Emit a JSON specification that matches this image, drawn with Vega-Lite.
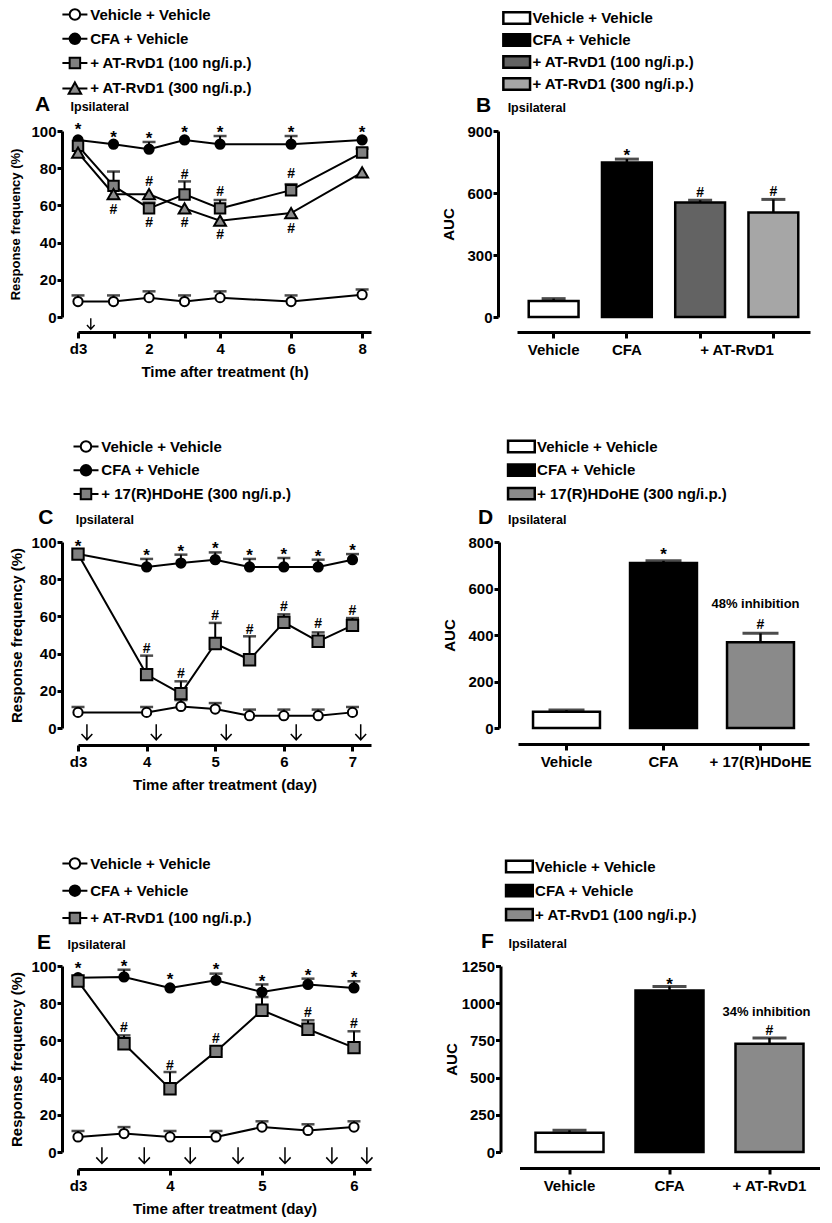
{
  "$schema": "https://vega.github.io/schema/vega-lite/v6.json",
  "padding": {"left": 9, "top": 7, "right": 5, "bottom": 5},
  "background": "white",
  "config": {
    "view": {"stroke": null},
    "font": "Liberation Sans",
    "axis": {"domainColor": "black", "domainWidth": 3, "tickColor": "black", "tickWidth": 3, "tickSize": 5, "labelFont": "Liberation Sans", "labelFontSize": 15, "labelFontWeight": "bold", "labelColor": "black", "titleFont": "Liberation Sans", "titleFontSize": 15, "titleFontWeight": "bold", "titleColor": "black", "grid": false, "labelOverlap": false, "labelFlush": false},
    "axisX": {"tickSize": 6},
    "text": {"color": "black", "font": "Liberation Sans"}
  },
  "resolve": {"scale": {"fill": "independent", "shape": "independent"}, "legend": {"fill": "independent", "shape": "independent"}},
  "datasets": {
    "A": [
      {"t": 0, "s": "Vehicle + Vehicle", "m": 8.3, "hi": 11.6},
      {"t": 1, "s": "Vehicle + Vehicle", "m": 8.3, "hi": 11.6},
      {"t": 2, "s": "Vehicle + Vehicle", "m": 10.4, "hi": 13.8},
      {"t": 3, "s": "Vehicle + Vehicle", "m": 8.3, "hi": 11.6},
      {"t": 4, "s": "Vehicle + Vehicle", "m": 10.4, "hi": 13.8},
      {"t": 6, "s": "Vehicle + Vehicle", "m": 8.3, "hi": 11.6},
      {"t": 8, "s": "Vehicle + Vehicle", "m": 12, "hi": 14.8},
      {"t": 0, "s": "CFA + Vehicle", "m": 95.2, "hi": null},
      {"t": 1, "s": "CFA + Vehicle", "m": 92.9, "hi": null},
      {"t": 2, "s": "CFA + Vehicle", "m": 90.2, "hi": 94.1},
      {"t": 3, "s": "CFA + Vehicle", "m": 95.2, "hi": null},
      {"t": 4, "s": "CFA + Vehicle", "m": 92.9, "hi": 97.3},
      {"t": 6, "s": "CFA + Vehicle", "m": 92.9, "hi": 97.3},
      {"t": 8, "s": "CFA + Vehicle", "m": 95.2, "hi": null},
      {"t": 0, "s": "+ AT-RvD1 (100 ng/i.p.)", "m": 92, "hi": null},
      {"t": 1, "s": "+ AT-RvD1 (100 ng/i.p.)", "m": 70.5, "hi": 78.2},
      {"t": 2, "s": "+ AT-RvD1 (100 ng/i.p.)", "m": 58.4, "hi": 61.5},
      {"t": 3, "s": "+ AT-RvD1 (100 ng/i.p.)", "m": 65.9, "hi": 72.9},
      {"t": 4, "s": "+ AT-RvD1 (100 ng/i.p.)", "m": 58.4, "hi": 62.9},
      {"t": 6, "s": "+ AT-RvD1 (100 ng/i.p.)", "m": 68.2, "hi": 71.4},
      {"t": 8, "s": "+ AT-RvD1 (100 ng/i.p.)", "m": 88.4, "hi": 90.5},
      {"t": 0, "s": "+ AT-RvD1 (300 ng/i.p.)", "m": 88.4, "hi": null},
      {"t": 1, "s": "+ AT-RvD1 (300 ng/i.p.)", "m": 66, "hi": null},
      {"t": 2, "s": "+ AT-RvD1 (300 ng/i.p.)", "m": 66, "hi": null},
      {"t": 3, "s": "+ AT-RvD1 (300 ng/i.p.)", "m": 58.4, "hi": null},
      {"t": 4, "s": "+ AT-RvD1 (300 ng/i.p.)", "m": 51.8, "hi": null},
      {"t": 6, "s": "+ AT-RvD1 (300 ng/i.p.)", "m": 55.9, "hi": null},
      {"t": 8, "s": "+ AT-RvD1 (300 ng/i.p.)", "m": 77.7, "hi": null}
    ],
    "A_ann": [
      {"t": 0, "y": 102.7, "k": "*"}, {"t": 1, "y": 98.2, "k": "*"}, {"t": 2, "y": 97.7, "k": "*"},
      {"t": 3, "y": 100.9, "k": "*"}, {"t": 4, "y": 101.3, "k": "*"}, {"t": 6, "y": 101.3, "k": "*"}, {"t": 8, "y": 101.3, "k": "*"},
      {"t": 1, "y": 58.0, "k": "#"}, {"t": 2, "y": 73.2, "k": "#"}, {"t": 2, "y": 50.9, "k": "#"},
      {"t": 3, "y": 76.8, "k": "#"}, {"t": 3, "y": 50.9, "k": "#"}, {"t": 4, "y": 67.9, "k": "#"},
      {"t": 4, "y": 44.6, "k": "#"}, {"t": 6, "y": 77.3, "k": "#"}, {"t": 6, "y": 47.7, "k": "#"}
    ],
    "A_arr": [{"t": 0.36, "y": -3.6}],
    "C": [
      {"t": 3, "s": "Vehicle + Vehicle", "m": 8.4, "hi": 11.3},
      {"t": 4, "s": "Vehicle + Vehicle", "m": 8.4, "hi": 11.3},
      {"t": 4.5, "s": "Vehicle + Vehicle", "m": 11.6, "hi": 15},
      {"t": 5, "s": "Vehicle + Vehicle", "m": 10.2, "hi": 13.4},
      {"t": 5.5, "s": "Vehicle + Vehicle", "m": 6.6, "hi": 9.9},
      {"t": 6, "s": "Vehicle + Vehicle", "m": 6.6, "hi": 9.9},
      {"t": 6.5, "s": "Vehicle + Vehicle", "m": 6.6, "hi": 9.9},
      {"t": 7, "s": "Vehicle + Vehicle", "m": 8.4, "hi": 11.3},
      {"t": 3, "s": "CFA + Vehicle", "m": 93.5, "hi": null},
      {"t": 4, "s": "CFA + Vehicle", "m": 86.6, "hi": 90.9},
      {"t": 4.5, "s": "CFA + Vehicle", "m": 88.7, "hi": 93.2},
      {"t": 5, "s": "CFA + Vehicle", "m": 90.5, "hi": 94.4},
      {"t": 5.5, "s": "CFA + Vehicle", "m": 86.6, "hi": 90.9},
      {"t": 6, "s": "CFA + Vehicle", "m": 86.6, "hi": 91.4},
      {"t": 6.5, "s": "CFA + Vehicle", "m": 86.6, "hi": 90.5},
      {"t": 7, "s": "CFA + Vehicle", "m": 90.5, "hi": 93.5},
      {"t": 3, "s": "+ 17(R)HDoHE (300 ng/i.p.)", "m": 93.5, "hi": null},
      {"t": 4, "s": "+ 17(R)HDoHE (300 ng/i.p.)", "m": 28.7, "hi": 38.9},
      {"t": 4.5, "s": "+ 17(R)HDoHE (300 ng/i.p.)", "m": 18.5, "hi": 25.1},
      {"t": 5, "s": "+ 17(R)HDoHE (300 ng/i.p.)", "m": 45.4, "hi": 56.5},
      {"t": 5.5, "s": "+ 17(R)HDoHE (300 ng/i.p.)", "m": 36.7, "hi": 49.3},
      {"t": 6, "s": "+ 17(R)HDoHE (300 ng/i.p.)", "m": 56.8, "hi": 61.1},
      {"t": 6.5, "s": "+ 17(R)HDoHE (300 ng/i.p.)", "m": 46.6, "hi": 51.4},
      {"t": 7, "s": "+ 17(R)HDoHE (300 ng/i.p.)", "m": 55.2, "hi": 59.1}
    ],
    "C_ann": [
      {"t": 3, "y": 99.5, "k": "*"}, {"t": 4, "y": 94.4, "k": "*"}, {"t": 4.5, "y": 96.8, "k": "*"}, {"t": 5, "y": 98.6, "k": "*"},
      {"t": 5.5, "y": 94.4, "k": "*"}, {"t": 6, "y": 94.9, "k": "*"}, {"t": 6.5, "y": 94.0, "k": "*"}, {"t": 7, "y": 97.3, "k": "*"},
      {"t": 4, "y": 43.0, "k": "#"}, {"t": 4.5, "y": 29.6, "k": "#"}, {"t": 5, "y": 60.6, "k": "#"}, {"t": 5.5, "y": 53.4, "k": "#"},
      {"t": 6, "y": 65.4, "k": "#"}, {"t": 6.5, "y": 56.5, "k": "#"}, {"t": 7, "y": 63.6, "k": "#"}
    ],
    "C_arr": [{"t": 3.13, "y": -2.2}, {"t": 4.14, "y": -2.2}, {"t": 5.16, "y": -2.2}, {"t": 6.18, "y": -2.2}, {"t": 7.12, "y": -2.2}],
    "E": [
      {"t": 3, "s": "Vehicle + Vehicle", "m": 8.1, "hi": 11.3},
      {"t": 3.5, "s": "Vehicle + Vehicle", "m": 9.9, "hi": 13.4},
      {"t": 4, "s": "Vehicle + Vehicle", "m": 8.1, "hi": 11.3},
      {"t": 4.5, "s": "Vehicle + Vehicle", "m": 8.1, "hi": 11.3},
      {"t": 5, "s": "Vehicle + Vehicle", "m": 13.4, "hi": 16.5},
      {"t": 5.5, "s": "Vehicle + Vehicle", "m": 11.6, "hi": 14.9},
      {"t": 6, "s": "Vehicle + Vehicle", "m": 13.4, "hi": 16.5},
      {"t": 3, "s": "CFA + Vehicle", "m": 93.7, "hi": null},
      {"t": 3.5, "s": "CFA + Vehicle", "m": 94.1, "hi": 98},
      {"t": 4, "s": "CFA + Vehicle", "m": 88.2, "hi": null},
      {"t": 4.5, "s": "CFA + Vehicle", "m": 92.3, "hi": 95.9},
      {"t": 5, "s": "CFA + Vehicle", "m": 86, "hi": 90.1},
      {"t": 5.5, "s": "CFA + Vehicle", "m": 90.1, "hi": 93.2},
      {"t": 6, "s": "CFA + Vehicle", "m": 88.2, "hi": 91.8},
      {"t": 3, "s": "+ AT-RvD1 (100 ng/i.p.)", "m": 91.9, "hi": null},
      {"t": 3.5, "s": "+ AT-RvD1 (100 ng/i.p.)", "m": 58.2, "hi": 62.7},
      {"t": 4, "s": "+ AT-RvD1 (100 ng/i.p.)", "m": 34, "hi": 43},
      {"t": 4.5, "s": "+ AT-RvD1 (100 ng/i.p.)", "m": 54.1, "hi": 55.5},
      {"t": 5, "s": "+ AT-RvD1 (100 ng/i.p.)", "m": 76.2, "hi": 83.3},
      {"t": 5.5, "s": "+ AT-RvD1 (100 ng/i.p.)", "m": 66, "hi": 70.8},
      {"t": 6, "s": "+ AT-RvD1 (100 ng/i.p.)", "m": 56.1, "hi": 64.9}
    ],
    "E_ann": [
      {"t": 3, "y": 100.7, "k": "*"}, {"t": 3.5, "y": 101.6, "k": "*"}, {"t": 4, "y": 94.4, "k": "*"}, {"t": 4.5, "y": 99.8, "k": "*"},
      {"t": 5, "y": 93.7, "k": "*"}, {"t": 5.5, "y": 96.8, "k": "*"}, {"t": 6, "y": 95.5, "k": "*"},
      {"t": 3.5, "y": 67.2, "k": "#"}, {"t": 4, "y": 47.0, "k": "#"}, {"t": 4.5, "y": 61.3, "k": "#"}, {"t": 5.5, "y": 75.3, "k": "#"}, {"t": 6, "y": 69.4, "k": "#"}
    ],
    "E_arr": [{"t": 3.26, "y": -1.8}, {"t": 3.72, "y": -1.8}, {"t": 4.22, "y": -1.8}, {"t": 4.74, "y": -1.8}, {"t": 5.25, "y": -1.8}, {"t": 5.76, "y": -1.8}, {"t": 6.14, "y": -1.8}]
  },
  "spacing": 60,
  "vconcat": [
    {
      "resolve": {"scale": {"fill": "independent", "shape": "independent"}, "legend": {"fill": "independent", "shape": "independent"}},
      "hconcat": [
        {
          "width": 293, "height": 186,
          "layer": [
            {"data": {"name": "A"}, "mark": {"type": "line", "color": "black", "strokeWidth": 2},
             "encoding": {
               "x": {"field": "t", "type": "quantitative", "scale": {"domain": [0, 8.25], "nice": false, "zero": false},
                     "axis": {"values": [0, 1, 2, 3, 4, 6, 8], "tickCount": 20, "format": "d", "labelExpr": "datum.value==0?'d3':(datum.value==1||datum.value==3)?'':datum.label", "title": "Time after treatment (h)", "offset": 15, "labelPadding": 3, "titlePadding": 8, "labelOverlap": false}},
               "y": {"field": "m", "type": "quantitative", "scale": {"domain": [0, 100], "nice": false},
                     "axis": {"values": [0, 20, 40, 60, 80, 100], "tickCount": 20, "format": "d", "title": "Response frequency (%)", "titleFontSize": 13, "offset": 16, "labelPadding": 1, "titlePadding": 8, "labelOverlap": false}},
               "detail": {"field": "s"}}},
            {"data": {"name": "A"}, "transform": [{"filter": "isValid(datum.hi)"}], "mark": {"type": "rule", "color": "black", "strokeWidth": 2},
             "encoding": {"x": {"field": "t", "type": "quantitative"}, "y": {"field": "m", "type": "quantitative"}, "y2": {"field": "hi"}}},
            {"data": {"name": "A"}, "transform": [{"filter": "isValid(datum.hi)"}], "mark": {"type": "tick", "orient": "horizontal", "color": "black", "thickness": 2.5, "size": 13},
             "encoding": {"x": {"field": "t", "type": "quantitative"}, "y": {"field": "hi", "type": "quantitative"}}},
            {"data": {"name": "A"}, "transform": [{"filter": "datum.s=='Vehicle + Vehicle'"}], "mark": {"type": "point", "shape": "circle", "size": 85, "filled": true, "fill": "white", "stroke": "black", "strokeWidth": 2, "opacity": 1},
             "encoding": {"x": {"field": "t", "type": "quantitative"}, "y": {"field": "m", "type": "quantitative"}}},
            {"data": {"name": "A"}, "transform": [{"filter": "datum.s=='CFA + Vehicle'"}], "mark": {"type": "point", "shape": "circle", "size": 85, "filled": true, "fill": "black", "stroke": "black", "strokeWidth": 2, "opacity": 1},
             "encoding": {"x": {"field": "t", "type": "quantitative"}, "y": {"field": "m", "type": "quantitative"}}},
            {"data": {"name": "A"}, "transform": [{"filter": "datum.s=='+ AT-RvD1 (100 ng/i.p.)'"}], "mark": {"type": "point", "shape": "square", "size": 110, "filled": true, "fill": "#808080", "stroke": "black", "strokeWidth": 2, "opacity": 1},
             "encoding": {"x": {"field": "t", "type": "quantitative"}, "y": {"field": "m", "type": "quantitative"}}},
            {"data": {"name": "A"}, "transform": [{"filter": "datum.s=='+ AT-RvD1 (300 ng/i.p.)'"}], "mark": {"type": "point", "shape": "triangle-up", "size": 140, "filled": true, "fill": "#8c8c8c", "stroke": "black", "strokeWidth": 2, "opacity": 1},
             "encoding": {"x": {"field": "t", "type": "quantitative"}, "y": {"field": "m", "type": "quantitative"}}},
            {"data": {"name": "A"}, "mark": {"type": "point", "filled": true, "size": 0, "opacity": 1, "stroke": "black", "strokeWidth": 2},
             "encoding": {
               "x": {"field": "t", "type": "quantitative"}, "y": {"field": "m", "type": "quantitative"},
               "shape": {"field": "s", "type": "nominal",
                 "scale": {"domain": ["Vehicle + Vehicle", "CFA + Vehicle", "+ AT-RvD1 (100 ng/i.p.)", "+ AT-RvD1 (300 ng/i.p.)"],
                           "range": ["M-2.5,0H-1.05M1.05,0H2.5M1.05,0A1.05,1.05,0,1,1,-1.05,0A1.05,1.05,0,1,1,1.05,0Z", "M-2.5,0H-1.05M1.05,0H2.5M1.05,0A1.05,1.05,0,1,1,-1.05,0A1.05,1.05,0,1,1,1.05,0Z", "M-2.5,0H-1.05M1.05,0H2.5M-1.05,-1.05H1.05V1.05H-1.05Z", "M-2.5,0H-0.65M0.65,0H2.5M0,-1.2L1.25,1.05L-1.25,1.05Z"]},
                 "legend": {"orient": "none", "legendX": -10.6, "legendY": -124, "title": null, "symbolSize": 100, "symbolStrokeWidth": 2, "symbolOpacity": 1, "labelFontSize": 15, "labelFontWeight": "bold", "labelFont": "Liberation Sans", "labelColor": "black", "labelOffset": 7.8, "rowPadding": 5.3, "labelLimit": 0}},
               "fill": {"field": "s", "type": "nominal",
                 "scale": {"domain": ["Vehicle + Vehicle", "CFA + Vehicle", "+ AT-RvD1 (100 ng/i.p.)", "+ AT-RvD1 (300 ng/i.p.)"], "range": ["white", "black", "#808080", "#8c8c8c"]},
                 "legend": {"orient": "none", "legendX": -10.6, "legendY": -124, "title": null, "symbolSize": 100, "symbolStrokeWidth": 2, "symbolOpacity": 1, "labelFontSize": 15, "labelFontWeight": "bold", "labelFont": "Liberation Sans", "labelColor": "black", "labelOffset": 7.8, "rowPadding": 5.3, "labelLimit": 0}}}},
            {"data": {"name": "A_ann"}, "transform": [{"filter": "datum.k=='*'"}], "mark": {"type": "text", "text": "*", "color": "black", "fontSize": 17, "fontWeight": "bold", "baseline": "middle", "dy": 4},
             "encoding": {"x": {"field": "t", "type": "quantitative"}, "y": {"field": "y", "type": "quantitative"}}},
            {"data": {"name": "A_ann"}, "transform": [{"filter": "datum.k=='#'"}], "mark": {"type": "text", "text": "#", "color": "black", "fontSize": 14, "fontWeight": "bold", "baseline": "middle", "dy": 1},
             "encoding": {"x": {"field": "t", "type": "quantitative"}, "y": {"field": "y", "type": "quantitative"}}},
            {"data": {"name": "A_arr"}, "mark": {"type": "point", "shape": "M0,-1V1M-0.7,0.25L0,1L0.7,0.25", "size": 120, "filled": false, "stroke": "black", "strokeWidth": 1.4, "opacity": 1},
             "encoding": {"x": {"field": "t", "type": "quantitative"}, "y": {"field": "y", "type": "quantitative"}}},
            {"data": {"values": [{}]}, "mark": {"type": "text", "text": "A", "color": "black", "fontSize": 21, "fontWeight": "bold", "align": "center", "baseline": "alphabetic"},
             "encoding": {"x": {"datum": -1.0}, "y": {"datum": 110.7}}},
            {"data": {"values": [{}]}, "mark": {"type": "text", "text": "Ipsilateral", "color": "black", "fontSize": 12.5, "fontWeight": "bold", "align": "left", "baseline": "alphabetic"},
             "encoding": {"x": {"datum": -0.21}, "y": {"datum": 110.7}}}
          ]
        },
        {
          "width": 293, "height": 186,
          "data": {"values": [
            {"g": "Vehicle", "lg": "Vehicle + Vehicle", "m": 77.5, "hi": 88.9, "sy": null, "hy": null},
            {"g": "CFA", "lg": "CFA + Vehicle", "m": 748, "hi": 764, "sy": 800, "hy": null},
            {"g": "AT100", "lg": "+ AT-RvD1 (100 ng/i.p.)", "m": 554, "hi": 565, "sy": null, "hy": 603},
            {"g": "AT300", "lg": "+ AT-RvD1 (300 ng/i.p.)", "m": 506, "hi": 569, "sy": null, "hy": 609}
          ]},
          "layer": [
            {"mark": {"type": "bar", "stroke": "black", "strokeWidth": 2.5},
             "encoding": {
               "x": {"field": "g", "type": "nominal", "scale": {"domain": ["Vehicle", "CFA", "AT100", "AT300"], "paddingInner": 0.32, "paddingOuter": 0.16},
                     "axis": {"title": null, "labelAngle": 0, "offset": 15, "labelPadding": 4, "labelExpr": "datum.value=='AT100'?'+ AT-RvD1':datum.value=='AT300'?'':datum.value", "labelAlign": {"condition": {"test": "datum.value=='AT100'", "value": "left"}, "value": "center"}}},
               "y": {"field": "m", "type": "quantitative", "scale": {"domain": [0, 900], "nice": false},
                     "axis": {"values": [0, 300, 600, 900], "tickCount": 20, "format": "d", "title": "AUC", "offset": 19, "labelPadding": 1, "titlePadding": 10, "labelOverlap": false}},
               "fill": {"field": "lg", "type": "nominal",
                 "scale": {"domain": ["Vehicle + Vehicle", "CFA + Vehicle", "+ AT-RvD1 (100 ng/i.p.)", "+ AT-RvD1 (300 ng/i.p.)"], "range": ["white", "black", "#636363", "#a6a6a6"]},
                 "legend": {"orient": "none", "legendX": -7.8, "legendY": -120.5, "title": null, "symbolType": "M-2.67,-1.13H2.67V1.13H-2.67Z", "symbolSize": 100, "symbolStrokeColor": "black", "symbolStrokeWidth": 2.5, "labelFontSize": 15, "labelFontWeight": "bold", "labelFont": "Liberation Sans", "labelColor": "black", "labelOffset": 8.2, "rowPadding": -1, "labelLimit": 0}}}},
            {"mark": {"type": "rule", "color": "black", "strokeWidth": 2.5},
             "encoding": {"x": {"field": "g", "type": "nominal"}, "y": {"field": "m", "type": "quantitative"}, "y2": {"field": "hi"}}},
            {"mark": {"type": "tick", "orient": "horizontal", "color": "black", "thickness": 3, "size": 24},
             "encoding": {"x": {"field": "g", "type": "nominal"}, "y": {"field": "hi", "type": "quantitative"}}},
            {"transform": [{"filter": "isValid(datum.sy)"}], "mark": {"type": "text", "text": "*", "color": "black", "fontSize": 17, "fontWeight": "bold", "baseline": "middle", "dy": 4},
             "encoding": {"x": {"field": "g", "type": "nominal"}, "y": {"field": "sy", "type": "quantitative"}}},
            {"transform": [{"filter": "isValid(datum.hy)"}], "mark": {"type": "text", "text": "#", "color": "black", "fontSize": 14, "fontWeight": "bold", "baseline": "middle", "dy": 1},
             "encoding": {"x": {"field": "g", "type": "nominal"}, "y": {"field": "hy", "type": "quantitative"}}},
            {"data": {"values": [{}]}, "mark": {"type": "text", "text": "B", "color": "black", "fontSize": 21, "fontWeight": "bold", "align": "center", "baseline": "alphabetic", "dx": -70},
             "encoding": {"x": {"datum": "Vehicle"}, "y": {"datum": 994}}},
            {"data": {"values": [{}]}, "mark": {"type": "text", "text": "Ipsilateral", "color": "black", "fontSize": 12.5, "fontWeight": "bold", "align": "left", "baseline": "alphabetic", "dx": -46},
             "encoding": {"x": {"datum": "Vehicle"}, "y": {"datum": 994}}}
          ]
        }
      ],
      "spacing": 68
    },
    {
      "spacing": 64,
      "resolve": {"scale": {"fill": "independent", "shape": "independent"}, "legend": {"fill": "independent", "shape": "independent"}},
      "vconcat": [
        {
          "resolve": {"scale": {"fill": "independent", "shape": "independent"}, "legend": {"fill": "independent", "shape": "independent"}},
          "hconcat": [
            {
              "width": 293, "height": 186,
              "layer": [
                {"data": {"name": "C"}, "mark": {"type": "line", "color": "black", "strokeWidth": 2},
                 "encoding": {
                   "x": {"field": "t", "type": "quantitative", "scale": {"domain": [3, 7.27], "nice": false, "zero": false},
                         "axis": {"values": [3, 4, 5, 6, 7], "tickCount": 20, "format": "d", "labelExpr": "datum.value==3?'d3':datum.label", "title": "Time after treatment (day)", "offset": 17, "labelPadding": 3, "titlePadding": 8, "labelOverlap": false}},
                   "y": {"field": "m", "type": "quantitative", "scale": {"domain": [0, 100], "nice": false},
                         "axis": {"values": [0, 20, 40, 60, 80, 100], "tickCount": 20, "format": "d", "title": "Response frequency (%)", "offset": 16, "labelPadding": 1, "titlePadding": 6, "labelOverlap": false}},
                   "detail": {"field": "s"}}},
                {"data": {"name": "C"}, "transform": [{"filter": "isValid(datum.hi)"}], "mark": {"type": "rule", "color": "black", "strokeWidth": 2},
                 "encoding": {"x": {"field": "t", "type": "quantitative"}, "y": {"field": "m", "type": "quantitative"}, "y2": {"field": "hi"}}},
                {"data": {"name": "C"}, "transform": [{"filter": "isValid(datum.hi)"}], "mark": {"type": "tick", "orient": "horizontal", "color": "black", "thickness": 2.5, "size": 13},
                 "encoding": {"x": {"field": "t", "type": "quantitative"}, "y": {"field": "hi", "type": "quantitative"}}},
                {"data": {"name": "C"}, "transform": [{"filter": "datum.s=='Vehicle + Vehicle'"}], "mark": {"type": "point", "shape": "circle", "size": 85, "filled": true, "fill": "white", "stroke": "black", "strokeWidth": 2, "opacity": 1},
                 "encoding": {"x": {"field": "t", "type": "quantitative"}, "y": {"field": "m", "type": "quantitative"}}},
                {"data": {"name": "C"}, "transform": [{"filter": "datum.s=='CFA + Vehicle'"}], "mark": {"type": "point", "shape": "circle", "size": 85, "filled": true, "fill": "black", "stroke": "black", "strokeWidth": 2, "opacity": 1},
                 "encoding": {"x": {"field": "t", "type": "quantitative"}, "y": {"field": "m", "type": "quantitative"}}},
                {"data": {"name": "C"}, "transform": [{"filter": "datum.s=='+ 17(R)HDoHE (300 ng/i.p.)'"}], "mark": {"type": "point", "shape": "square", "size": 130, "filled": true, "fill": "#808080", "stroke": "black", "strokeWidth": 2, "opacity": 1},
                 "encoding": {"x": {"field": "t", "type": "quantitative"}, "y": {"field": "m", "type": "quantitative"}}},
                {"data": {"name": "C"}, "mark": {"type": "point", "filled": true, "size": 0, "opacity": 1, "stroke": "black", "strokeWidth": 2},
                 "encoding": {
                   "x": {"field": "t", "type": "quantitative"}, "y": {"field": "m", "type": "quantitative"},
                   "shape": {"field": "s", "type": "nominal",
                     "scale": {"domain": ["Vehicle + Vehicle", "CFA + Vehicle", "+ 17(R)HDoHE (300 ng/i.p.)"],
                               "range": ["M-2.5,0H-1.05M1.05,0H2.5M1.05,0A1.05,1.05,0,1,1,-1.05,0A1.05,1.05,0,1,1,1.05,0Z", "M-2.5,0H-1.05M1.05,0H2.5M1.05,0A1.05,1.05,0,1,1,-1.05,0A1.05,1.05,0,1,1,1.05,0Z", "M-2.5,0H-1.05M1.05,0H2.5M-1.05,-1.05H1.05V1.05H-1.05Z"]},
                     "legend": {"orient": "none", "legendX": 0.5, "legendY": -103, "title": null, "symbolSize": 100, "symbolStrokeWidth": 2, "symbolOpacity": 1, "labelFontSize": 15, "labelFontWeight": "bold", "labelFont": "Liberation Sans", "labelColor": "black", "labelOffset": 7.8, "rowPadding": 4.8, "labelLimit": 0}},
                   "fill": {"field": "s", "type": "nominal",
                     "scale": {"domain": ["Vehicle + Vehicle", "CFA + Vehicle", "+ 17(R)HDoHE (300 ng/i.p.)"], "range": ["white", "black", "#808080"]},
                     "legend": {"orient": "none", "legendX": 0.5, "legendY": -103, "title": null, "symbolSize": 100, "symbolStrokeWidth": 2, "symbolOpacity": 1, "labelFontSize": 15, "labelFontWeight": "bold", "labelFont": "Liberation Sans", "labelColor": "black", "labelOffset": 7.8, "rowPadding": 4.8, "labelLimit": 0}}}},
                {"data": {"name": "C_ann"}, "transform": [{"filter": "datum.k=='*'"}], "mark": {"type": "text", "text": "*", "color": "black", "fontSize": 17, "fontWeight": "bold", "baseline": "middle", "dy": 4},
                 "encoding": {"x": {"field": "t", "type": "quantitative"}, "y": {"field": "y", "type": "quantitative"}}},
                {"data": {"name": "C_ann"}, "transform": [{"filter": "datum.k=='#'"}], "mark": {"type": "text", "text": "#", "color": "black", "fontSize": 14, "fontWeight": "bold", "baseline": "middle", "dy": 1},
                 "encoding": {"x": {"field": "t", "type": "quantitative"}, "y": {"field": "y", "type": "quantitative"}}},
                {"data": {"name": "C_arr"}, "mark": {"type": "point", "shape": "M0,-1V1M-0.7,0.25L0,1L0.7,0.25", "size": 240, "filled": false, "stroke": "black", "strokeWidth": 1.5, "opacity": 1},
                 "encoding": {"x": {"field": "t", "type": "quantitative"}, "y": {"field": "y", "type": "quantitative"}}},
                {"data": {"values": [{}]}, "mark": {"type": "text", "text": "C", "color": "black", "fontSize": 21, "fontWeight": "bold", "align": "center", "baseline": "alphabetic"},
                 "encoding": {"x": {"datum": 2.53}, "y": {"datum": 109.7}}},
                {"data": {"values": [{}]}, "mark": {"type": "text", "text": "Ipsilateral", "color": "black", "fontSize": 12.5, "fontWeight": "bold", "align": "left", "baseline": "alphabetic"},
                 "encoding": {"x": {"datum": 2.966}, "y": {"datum": 109.7}}}
              ]
            },
            {
              "width": 291, "height": 186,
              "data": {"values": [
                {"g": "Vehicle", "lg": "Vehicle + Vehicle", "m": 70, "hi": 77, "sy": null, "hy": null},
                {"g": "CFA", "lg": "CFA + Vehicle", "m": 710, "hi": 719, "sy": 760, "hy": null},
                {"g": "17R", "lg": "+ 17(R)HDoHE (300 ng/i.p.)", "m": 369, "hi": 407, "sy": null, "hy": 446}
              ]},
              "layer": [
                {"mark": {"type": "bar", "stroke": "black", "strokeWidth": 2.5},
                 "encoding": {
                   "x": {"field": "g", "type": "nominal", "scale": {"domain": ["Vehicle", "CFA", "17R"], "paddingInner": 0.31, "paddingOuter": 0.155},
                         "axis": {"title": null, "labelAngle": 0, "offset": 16, "labelPadding": 4, "labelExpr": "datum.value=='17R'?'+ 17(R)HDoHE':datum.value"}},
                   "y": {"field": "m", "type": "quantitative", "scale": {"domain": [0, 800], "nice": false},
                         "axis": {"values": [0, 200, 400, 600, 800], "tickCount": 20, "format": "d", "title": "AUC", "offset": 19, "labelPadding": 1, "titlePadding": 10, "labelOverlap": false}},
                   "fill": {"field": "lg", "type": "nominal",
                     "scale": {"domain": ["Vehicle + Vehicle", "CFA + Vehicle", "+ 17(R)HDoHE (300 ng/i.p.)"], "range": ["white", "black", "#8a8a8a"]},
                     "legend": {"orient": "none", "legendX": -4.1, "legendY": -103, "title": null, "symbolType": "M-2.67,-1.13H2.67V1.13H-2.67Z", "symbolSize": 100, "symbolStrokeColor": "black", "symbolStrokeWidth": 2.5, "labelFontSize": 15, "labelFontWeight": "bold", "labelFont": "Liberation Sans", "labelColor": "black", "labelOffset": 8.2, "rowPadding": 0.6, "labelLimit": 0}}}},
                {"mark": {"type": "rule", "color": "black", "strokeWidth": 2.5},
                 "encoding": {"x": {"field": "g", "type": "nominal"}, "y": {"field": "m", "type": "quantitative"}, "y2": {"field": "hi"}}},
                {"mark": {"type": "tick", "orient": "horizontal", "color": "black", "thickness": 3, "size": 36},
                 "encoding": {"x": {"field": "g", "type": "nominal"}, "y": {"field": "hi", "type": "quantitative"}}},
                {"transform": [{"filter": "isValid(datum.sy)"}], "mark": {"type": "text", "text": "*", "color": "black", "fontSize": 17, "fontWeight": "bold", "baseline": "middle", "dy": 4},
                 "encoding": {"x": {"field": "g", "type": "nominal"}, "y": {"field": "sy", "type": "quantitative"}}},
                {"transform": [{"filter": "isValid(datum.hy)"}], "mark": {"type": "text", "text": "#", "color": "black", "fontSize": 14, "fontWeight": "bold", "baseline": "middle", "dy": 1},
                 "encoding": {"x": {"field": "g", "type": "nominal"}, "y": {"field": "hy", "type": "quantitative"}}},
                {"data": {"values": [{}]}, "mark": {"type": "text", "text": "48%  inhibition", "color": "black", "fontSize": 13, "fontWeight": "bold", "align": "center", "baseline": "middle", "dx": -5},
                 "encoding": {"x": {"datum": "17R"}, "y": {"datum": 534}}},
                {"data": {"values": [{}]}, "mark": {"type": "text", "text": "D", "color": "black", "fontSize": 21, "fontWeight": "bold", "align": "center", "baseline": "alphabetic", "dx": -81},
                 "encoding": {"x": {"datum": "Vehicle"}, "y": {"datum": 877}}},
                {"data": {"values": [{}]}, "mark": {"type": "text", "text": "Ipsilateral", "color": "black", "fontSize": 12.5, "fontWeight": "bold", "align": "left", "baseline": "alphabetic", "dx": -58.4},
                 "encoding": {"x": {"datum": "Vehicle"}, "y": {"datum": 877}}}
              ]
            }
          ],
          "spacing": 71
        },
        {
          "resolve": {"scale": {"fill": "independent", "shape": "independent"}, "legend": {"fill": "independent", "shape": "independent"}},
          "hconcat": [
            {
              "width": 293, "height": 186,
              "layer": [
                {"data": {"name": "E"}, "mark": {"type": "line", "color": "black", "strokeWidth": 2},
                 "encoding": {
                   "x": {"field": "t", "type": "quantitative", "scale": {"domain": [3, 6.185], "nice": false, "zero": false},
                         "axis": {"values": [3, 4, 5, 6], "tickCount": 20, "format": "d", "labelExpr": "datum.value==3?'d3':datum.label", "title": "Time after treatment (day)", "offset": 17, "labelPadding": 3, "titlePadding": 8, "labelOverlap": false}},
                   "y": {"field": "m", "type": "quantitative", "scale": {"domain": [0, 100], "nice": false},
                         "axis": {"values": [0, 20, 40, 60, 80, 100], "tickCount": 20, "format": "d", "title": "Response frequency (%)", "offset": 16, "labelPadding": 1, "titlePadding": 6, "labelOverlap": false}},
                   "detail": {"field": "s"}}},
                {"data": {"name": "E"}, "transform": [{"filter": "isValid(datum.hi)"}], "mark": {"type": "rule", "color": "black", "strokeWidth": 2},
                 "encoding": {"x": {"field": "t", "type": "quantitative"}, "y": {"field": "m", "type": "quantitative"}, "y2": {"field": "hi"}}},
                {"data": {"name": "E"}, "transform": [{"filter": "isValid(datum.hi)"}], "mark": {"type": "tick", "orient": "horizontal", "color": "black", "thickness": 2.5, "size": 13},
                 "encoding": {"x": {"field": "t", "type": "quantitative"}, "y": {"field": "hi", "type": "quantitative"}}},
                {"data": {"name": "E"}, "transform": [{"filter": "datum.s=='Vehicle + Vehicle'"}], "mark": {"type": "point", "shape": "circle", "size": 85, "filled": true, "fill": "white", "stroke": "black", "strokeWidth": 2, "opacity": 1},
                 "encoding": {"x": {"field": "t", "type": "quantitative"}, "y": {"field": "m", "type": "quantitative"}}},
                {"data": {"name": "E"}, "transform": [{"filter": "datum.s=='CFA + Vehicle'"}], "mark": {"type": "point", "shape": "circle", "size": 85, "filled": true, "fill": "black", "stroke": "black", "strokeWidth": 2, "opacity": 1},
                 "encoding": {"x": {"field": "t", "type": "quantitative"}, "y": {"field": "m", "type": "quantitative"}}},
                {"data": {"name": "E"}, "transform": [{"filter": "datum.s=='+ AT-RvD1 (100 ng/i.p.)'"}], "mark": {"type": "point", "shape": "square", "size": 130, "filled": true, "fill": "#808080", "stroke": "black", "strokeWidth": 2, "opacity": 1},
                 "encoding": {"x": {"field": "t", "type": "quantitative"}, "y": {"field": "m", "type": "quantitative"}}},
                {"data": {"name": "E"}, "mark": {"type": "point", "filled": true, "size": 0, "opacity": 1, "stroke": "black", "strokeWidth": 2},
                 "encoding": {
                   "x": {"field": "t", "type": "quantitative"}, "y": {"field": "m", "type": "quantitative"},
                   "shape": {"field": "s", "type": "nominal",
                     "scale": {"domain": ["Vehicle + Vehicle", "CFA + Vehicle", "+ AT-RvD1 (100 ng/i.p.)"],
                               "range": ["M-2.5,0H-1.05M1.05,0H2.5M1.05,0A1.05,1.05,0,1,1,-1.05,0A1.05,1.05,0,1,1,1.05,0Z", "M-2.5,0H-1.05M1.05,0H2.5M1.05,0A1.05,1.05,0,1,1,-1.05,0A1.05,1.05,0,1,1,1.05,0Z", "M-2.5,0H-1.05M1.05,0H2.5M-1.05,-1.05H1.05V1.05H-1.05Z"]},
                     "legend": {"orient": "none", "legendX": -10.6, "legendY": -110, "title": null, "symbolSize": 100, "symbolStrokeWidth": 2, "symbolOpacity": 1, "labelFontSize": 15, "labelFontWeight": "bold", "labelFont": "Liberation Sans", "labelColor": "black", "labelOffset": 7.8, "rowPadding": 8.2, "labelLimit": 0}},
                   "fill": {"field": "s", "type": "nominal",
                     "scale": {"domain": ["Vehicle + Vehicle", "CFA + Vehicle", "+ AT-RvD1 (100 ng/i.p.)"], "range": ["white", "black", "#808080"]},
                     "legend": {"orient": "none", "legendX": -10.6, "legendY": -110, "title": null, "symbolSize": 100, "symbolStrokeWidth": 2, "symbolOpacity": 1, "labelFontSize": 15, "labelFontWeight": "bold", "labelFont": "Liberation Sans", "labelColor": "black", "labelOffset": 7.8, "rowPadding": 8.2, "labelLimit": 0}}}},
                {"data": {"name": "E_ann"}, "transform": [{"filter": "datum.k=='*'"}], "mark": {"type": "text", "text": "*", "color": "black", "fontSize": 17, "fontWeight": "bold", "baseline": "middle", "dy": 4},
                 "encoding": {"x": {"field": "t", "type": "quantitative"}, "y": {"field": "y", "type": "quantitative"}}},
                {"data": {"name": "E_ann"}, "transform": [{"filter": "datum.k=='#'"}], "mark": {"type": "text", "text": "#", "color": "black", "fontSize": 14, "fontWeight": "bold", "baseline": "middle", "dy": 1},
                 "encoding": {"x": {"field": "t", "type": "quantitative"}, "y": {"field": "y", "type": "quantitative"}}},
                {"data": {"name": "E_arr"}, "mark": {"type": "point", "shape": "M0,-1V1M-0.7,0.25L0,1L0.7,0.25", "size": 260, "filled": false, "stroke": "black", "strokeWidth": 1.5, "opacity": 1},
                 "encoding": {"x": {"field": "t", "type": "quantitative"}, "y": {"field": "y", "type": "quantitative"}}},
                {"data": {"values": [{}]}, "mark": {"type": "text", "text": "E", "color": "black", "fontSize": 21, "fontWeight": "bold", "align": "center", "baseline": "alphabetic"},
                 "encoding": {"x": {"datum": 2.63}, "y": {"datum": 109.3}}},
                {"data": {"values": [{}]}, "mark": {"type": "text", "text": "Ipsilateral", "color": "black", "fontSize": 12.5, "fontWeight": "bold", "align": "left", "baseline": "alphabetic"},
                 "encoding": {"x": {"datum": 2.885}, "y": {"datum": 109.3}}}
              ]
            },
            {
              "width": 300, "height": 186,
              "data": {"values": [
                {"g": "Vehicle", "lg": "Vehicle + Vehicle", "m": 130, "hi": 146, "sy": null, "hy": null},
                {"g": "CFA", "lg": "CFA + Vehicle", "m": 1086, "hi": 1113, "sy": 1149, "hy": null},
                {"g": "AT", "lg": "+ AT-RvD1 (100 ng/i.p.)", "m": 728, "hi": 766, "sy": null, "hy": 818}
              ]},
              "layer": [
                {"mark": {"type": "bar", "stroke": "black", "strokeWidth": 2.5},
                 "encoding": {
                   "x": {"field": "g", "type": "nominal", "scale": {"domain": ["Vehicle", "CFA", "AT"], "paddingInner": 0.32, "paddingOuter": 0.16},
                         "axis": {"title": null, "labelAngle": 0, "offset": 16, "labelPadding": 4, "labelExpr": "datum.value=='AT'?'+ AT-RvD1':datum.value"}},
                   "y": {"field": "m", "type": "quantitative", "scale": {"domain": [0, 1250], "nice": false},
                         "axis": {"values": [0, 250, 500, 750, 1000, 1250], "tickCount": 20, "format": "d", "title": "AUC", "offset": 19, "labelPadding": 1, "titlePadding": 2, "labelOverlap": false}},
                   "fill": {"field": "lg", "type": "nominal",
                     "scale": {"domain": ["Vehicle + Vehicle", "CFA + Vehicle", "+ AT-RvD1 (100 ng/i.p.)"], "range": ["white", "black", "#8a8a8a"]},
                     "legend": {"orient": "none", "legendX": -7.6, "legendY": -107, "title": null, "symbolType": "M-2.67,-1.13H2.67V1.13H-2.67Z", "symbolSize": 100, "symbolStrokeColor": "black", "symbolStrokeWidth": 2.5, "labelFontSize": 15, "labelFontWeight": "bold", "labelFont": "Liberation Sans", "labelColor": "black", "labelOffset": 8.2, "rowPadding": 1.1, "labelLimit": 0}}}},
                {"mark": {"type": "rule", "color": "black", "strokeWidth": 2.5},
                 "encoding": {"x": {"field": "g", "type": "nominal"}, "y": {"field": "m", "type": "quantitative"}, "y2": {"field": "hi"}}},
                {"mark": {"type": "tick", "orient": "horizontal", "color": "black", "thickness": 3, "size": 34},
                 "encoding": {"x": {"field": "g", "type": "nominal"}, "y": {"field": "hi", "type": "quantitative"}}},
                {"transform": [{"filter": "isValid(datum.sy)"}], "mark": {"type": "text", "text": "*", "color": "black", "fontSize": 17, "fontWeight": "bold", "baseline": "middle", "dy": 4},
                 "encoding": {"x": {"field": "g", "type": "nominal"}, "y": {"field": "sy", "type": "quantitative"}}},
                {"transform": [{"filter": "isValid(datum.hy)"}], "mark": {"type": "text", "text": "#", "color": "black", "fontSize": 14, "fontWeight": "bold", "baseline": "middle", "dy": 1},
                 "encoding": {"x": {"field": "g", "type": "nominal"}, "y": {"field": "hy", "type": "quantitative"}}},
                {"data": {"values": [{}]}, "mark": {"type": "text", "text": "34%  inhibition", "color": "black", "fontSize": 13, "fontWeight": "bold", "align": "center", "baseline": "middle", "dx": -3},
                 "encoding": {"x": {"datum": "AT"}, "y": {"datum": 941}}},
                {"data": {"values": [{}]}, "mark": {"type": "text", "text": "F", "color": "black", "fontSize": 21, "fontWeight": "bold", "align": "center", "baseline": "alphabetic", "dx": -82},
                 "encoding": {"x": {"datum": "Vehicle"}, "y": {"datum": 1371}}},
                {"data": {"values": [{}]}, "mark": {"type": "text", "text": "Ipsilateral", "color": "black", "fontSize": 12.5, "fontWeight": "bold", "align": "left", "baseline": "alphabetic", "dx": -61},
                 "encoding": {"x": {"datum": "Vehicle"}, "y": {"datum": 1371}}}
              ]
            }
          ],
          "spacing": 67.5
        }
      ]
    }
  ]
}
